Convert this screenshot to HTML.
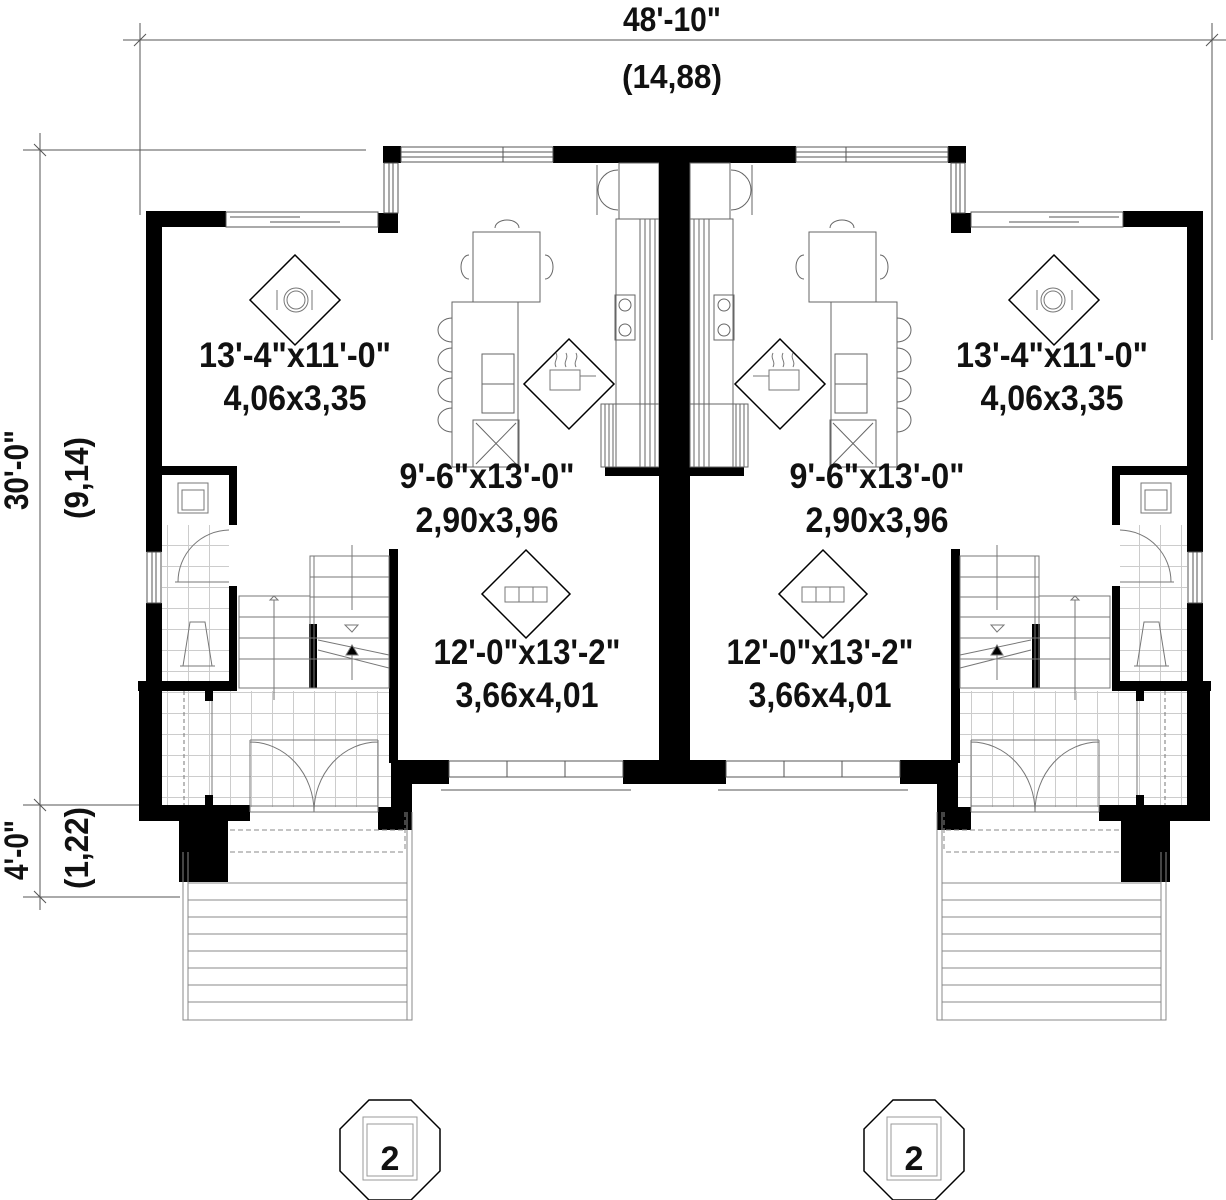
<!DOCTYPE html>
<html><head><meta charset="utf-8"><style>
html,body{margin:0;padding:0;background:#fff;}
svg{display:block;}
text{font-family:"Liberation Sans",Arial,sans-serif;font-weight:bold;fill:#111;}
</style></head><body>
<svg width="1226" height="1200" viewBox="0 0 1226 1200" xmlns="http://www.w3.org/2000/svg">
<defs>
<pattern id="tile" width="21" height="21" patternUnits="userSpaceOnUse">
<path d="M0 20.5H21M20.5 0V21" stroke="#ccc" stroke-width="1" fill="none"/>
</pattern>
<g id="unit">
 <rect x="162" y="525" width="67" height="156" fill="url(#tile)"/>
 <rect x="162" y="691" width="229" height="116" fill="url(#tile)"/>
 <g fill="#000">
  <rect x="383" y="146" width="18" height="17"/>
  <rect x="553" y="146" width="137" height="17"/>
  <rect x="659" y="146" width="31" height="638"/>
  <rect x="378" y="213" width="20" height="20"/>
  <rect x="146" y="211" width="80" height="16"/>
  <rect x="146" y="211" width="16" height="262"/>
  <rect x="146" y="466" width="91" height="9"/>
  <rect x="146" y="466" width="16" height="86"/>
  <rect x="146" y="603" width="16" height="90"/>
  <rect x="229" y="466" width="8" height="59"/>
  <rect x="229" y="586" width="8" height="100"/>
  <rect x="138" y="681" width="99" height="10"/>
  <rect x="139" y="681" width="23" height="140"/>
  <rect x="139" y="805" width="111" height="16"/>
  <rect x="179" y="821" width="49" height="61"/>
  <rect x="378" y="807" width="34" height="23"/>
  <rect x="391" y="760" width="21" height="50"/>
  <rect x="389" y="549" width="9" height="214"/>
  <rect x="398" y="760" width="51" height="24"/>
  <rect x="623" y="760" width="67" height="24"/>
  <rect x="605" y="467" width="54" height="9"/>
  <rect x="309" y="624" width="8" height="64"/>
  <rect x="205" y="691" width="8" height="10"/>
  <rect x="205" y="795" width="8" height="10"/>
 </g>
 <g fill="none" stroke="#555" stroke-width="1">
  <rect x="401" y="147" width="152" height="15"/>
  <line x1="401" y1="152" x2="553" y2="152"/><line x1="401" y1="157" x2="553" y2="157"/>
  <line x1="503" y1="147" x2="503" y2="162"/>
  <rect x="384" y="163" width="14" height="50"/>
  <line x1="389" y1="163" x2="389" y2="213"/><line x1="393" y1="163" x2="393" y2="213"/>
  <rect x="226" y="212" width="152" height="15"/>
  <line x1="230" y1="217" x2="300" y2="217"/><line x1="270" y1="222" x2="340" y2="222"/>
  <rect x="147" y="552" width="14" height="51"/>
  <line x1="152" y1="552" x2="152" y2="603"/><line x1="156" y1="552" x2="156" y2="603"/>
  <rect x="449" y="761" width="174" height="16"/>
  <line x1="507" y1="761" x2="507" y2="777"/><line x1="565" y1="761" x2="565" y2="777"/>
  <line x1="441" y1="790" x2="631" y2="790"/>
 </g>
 <g fill="none" stroke="#666" stroke-width="1">
  <rect x="473" y="232" width="67" height="70"/>
  <path d="M495 228a12 8 0 0 1 24 0M469 255a8 12 0 0 0 0 24M545 255a8 12 0 0 1 0 24"/>
  <rect x="452" y="302" width="66" height="165"/>
  <rect x="482" y="354" width="32" height="59"/><line x1="482" y1="384" x2="514" y2="384"/>
  <rect x="473" y="420" width="46" height="47"/>
  <path d="M476 423L516 464M516 423L476 464"/>
  <path d="M452 318a14 12 0 0 0 0 24M452 348a14 12 0 0 0 0 24M452 378a14 12 0 0 0 0 24M452 408a14 12 0 0 0 0 24"/>
  <rect x="616" y="219" width="43" height="248"/>
  <rect x="601" y="404" width="58" height="63"/>
  <path d="M605 404V467M609 404V467M613 404V467M640 219V467M645 219V467M650 219V467M655 219V467"/>
  <circle cx="625" cy="305" r="6"/><circle cx="625" cy="330" r="6"/>
  <rect x="615" y="295" width="20" height="45"/>
  <rect x="619" y="163" width="40" height="56"/>
  <path d="M597 165v50M598 190a20 20 0 0 1 20-20M598 190a20 20 0 0 0 20 20"/>
 </g>
 <g fill="none" stroke="#777" stroke-width="1">
  <rect x="178" y="483" width="30" height="30"/>
  <rect x="182" y="490" width="22" height="20"/>
  <path d="M178 582a52 52 0 0 1 51-52M175 582H229"/>
  <path d="M183 666L190 622H205L212 666Z"/>
  <path d="M180 666H215"/>
 </g>
 <g fill="none" stroke="#777" stroke-width="1">
  <rect x="310" y="556" width="79" height="132"/>
  <path d="M310 577H389M310 597H389M310 617H389M310 638H389M310 659H389M314 556V688"/>
  <rect x="239" y="596" width="71" height="92"/>
  <path d="M239 617H310M239 638H310M239 659H310"/>
  <path d="M274 600V700M270 600L274 596L278 600Z M352 545V610"/>
  <path d="M318 640L389 655M318 650L389 668"/>
  <path d="M345 625H358L352 632Z"/>
  <path d="M352 645L358 655H346Z" fill="#000"/>
  <path d="M352 655V680"/>
 </g>
 <g fill="none" stroke="#777" stroke-width="1">
  <path d="M250 740H378M250 740V812M378 740V812M314 812a64 70 0 0 0 -64-70M314 812a64 70 0 0 1 64-70M250 812H378M250 806H378"/>
  <path d="M184 691V805" stroke-dasharray="4 3"/>
  <path d="M212 701V795"/>
 </g>
 <g fill="none" stroke="#888" stroke-width="1">
  <path d="M230 830H405M405 812V852M230 852H405" stroke-dasharray="5 3"/>
  <path d="M183 852V1020H412V812M188 852V1020M407 812V1020"/>
  <path d="M188 883H407M188 900H407M188 917H407M188 934H407M188 951H407M188 968H407M188 985H407M188 1002H407"/>
 </g>
 <g fill="none" stroke="#000" stroke-width="1.5">
  <path d="M295 255L340 300L295 345L250 300Z"/>
  <path d="M569 339L614 384L569 429L524 384Z"/>
  <path d="M526 550L570 594L526 638L482 594Z"/>
 </g>
 <g fill="none" stroke="#777" stroke-width="1">
  <circle cx="296" cy="300" r="12"/><circle cx="296" cy="300" r="9"/>
  <path d="M277 290v20M312 290v20"/>
  <path d="M550 370h30v20h-30zM580 376h16M556 367c-3-6 3-8 0-14M566 367c-3-6 3-8 0-14M576 367c-3-6 3-8 0-14"/>
  <rect x="505" y="587" width="42" height="15"/><path d="M519 587v15M533 587v15"/>
 </g>
</g>
</defs>

<g stroke="#555" stroke-width="1" fill="none">
 <line x1="123" y1="40" x2="1226" y2="40"/>
 <line x1="140" y1="23" x2="140" y2="215"/>
 <line x1="1212" y1="23" x2="1212" y2="340"/>
 <path d="M134 46L146 34M1206 46L1218 34"/>
 <line x1="23" y1="150" x2="366" y2="150"/>
 <line x1="40" y1="133" x2="40" y2="910"/>
 <line x1="23" y1="805" x2="150" y2="805"/>
 <line x1="23" y1="897" x2="180" y2="897"/>
 <path d="M34 144L46 156M34 799L46 811M34 891L46 903"/>
</g>
<text x="672" y="31" font-size="34" text-anchor="middle" textLength="98" lengthAdjust="spacingAndGlyphs">48'-10"</text>
<text x="672" y="88" font-size="33" text-anchor="middle" textLength="100" lengthAdjust="spacingAndGlyphs">(14,88)</text>
<text transform="translate(28,470) rotate(-90)" font-size="34" text-anchor="middle" textLength="80" lengthAdjust="spacingAndGlyphs">30'-0"</text>
<text transform="translate(88,478) rotate(-90)" font-size="33" text-anchor="middle" textLength="82" lengthAdjust="spacingAndGlyphs">(9,14)</text>
<text transform="translate(28,850) rotate(-90)" font-size="34" text-anchor="middle" textLength="60" lengthAdjust="spacingAndGlyphs">4'-0"</text>
<text transform="translate(88,848) rotate(-90)" font-size="33" text-anchor="middle" textLength="82" lengthAdjust="spacingAndGlyphs">(1,22)</text>

<use href="#unit"/>
<use href="#unit" transform="translate(1349,0) scale(-1,1)"/>

<g font-size="35" text-anchor="middle">
 <text x="295" y="367" textLength="192" lengthAdjust="spacingAndGlyphs">13'-4"x11'-0"</text>
 <text x="295" y="410" textLength="143" lengthAdjust="spacingAndGlyphs">4,06x3,35</text>
 <text x="487" y="488" textLength="175" lengthAdjust="spacingAndGlyphs">9'-6"x13'-0"</text>
 <text x="487" y="532" textLength="143" lengthAdjust="spacingAndGlyphs">2,90x3,96</text>
 <text x="527" y="664" textLength="187" lengthAdjust="spacingAndGlyphs">12'-0"x13'-2"</text>
 <text x="527" y="707" textLength="143" lengthAdjust="spacingAndGlyphs">3,66x4,01</text>
 <text x="1052" y="367" textLength="192" lengthAdjust="spacingAndGlyphs">13'-4"x11'-0"</text>
 <text x="1052" y="410" textLength="143" lengthAdjust="spacingAndGlyphs">4,06x3,35</text>
 <text x="877" y="488" textLength="175" lengthAdjust="spacingAndGlyphs">9'-6"x13'-0"</text>
 <text x="877" y="532" textLength="143" lengthAdjust="spacingAndGlyphs">2,90x3,96</text>
 <text x="820" y="664" textLength="187" lengthAdjust="spacingAndGlyphs">12'-0"x13'-2"</text>
 <text x="820" y="707" textLength="143" lengthAdjust="spacingAndGlyphs">3,66x4,01</text>
</g>

<g fill="none" stroke="#000" stroke-width="1.5">
 <path d="M369 1100H411L440 1129V1171L411 1200H369L340 1171V1129Z"/>
 <path d="M893 1100H935L964 1129V1171L935 1200H893L864 1171V1129Z"/>
</g>
<g fill="none" stroke="#999" stroke-width="1">
 <rect x="363" y="1117" width="54" height="63"/><rect x="367" y="1124" width="46" height="52"/>
 <rect x="887" y="1117" width="54" height="63"/><rect x="891" y="1124" width="46" height="52"/>
</g>
<text x="390" y="1170" font-size="34" text-anchor="middle">2</text>
<text x="914" y="1170" font-size="34" text-anchor="middle">2</text>
</svg>
</body></html>
